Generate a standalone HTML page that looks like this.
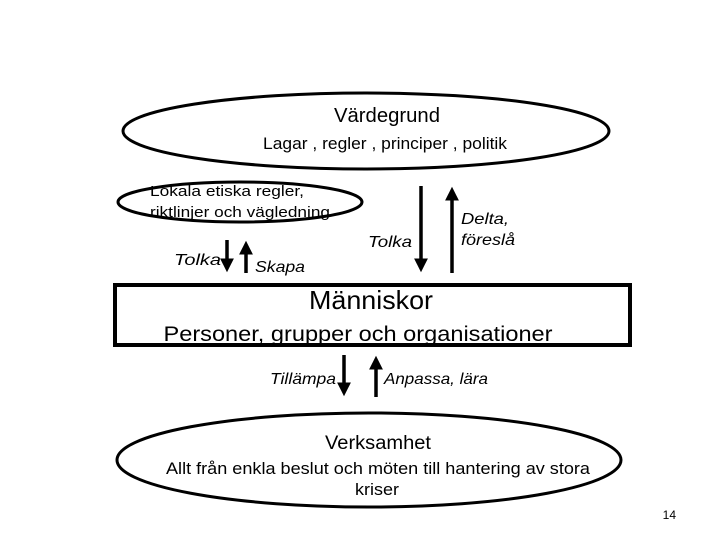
<!DOCTYPE html>
<html><head><meta charset="utf-8"><style>html,body{margin:0;padding:0;background:#fff}svg{display:block}</style></head>
<body>
<svg width="720" height="540" viewBox="0 0 720 540" xmlns="http://www.w3.org/2000/svg" font-family="'Liberation Sans', 'DejaVu Sans', sans-serif">
<defs>
<marker id="ah" markerWidth="4" markerHeight="4" refX="2.2" refY="2" orient="auto" markerUnits="strokeWidth"><path d="M0,0 L4,2 L0,4 z" fill="#000"/></marker>
</defs>
<ellipse cx="366" cy="131" rx="243" ry="38" fill="#fff" stroke="#000" stroke-width="3"/>
<text x="387" y="122" font-size="20" text-anchor="middle" textLength="106" lengthAdjust="spacingAndGlyphs">Värdegrund</text>
<text x="385" y="149" font-size="17" text-anchor="middle" textLength="244" lengthAdjust="spacingAndGlyphs">Lagar , regler , principer , politik</text>
<ellipse cx="240" cy="202" rx="122" ry="20" fill="#fff" stroke="#000" stroke-width="3"/>
<text x="150" y="196" font-size="15" textLength="154" lengthAdjust="spacingAndGlyphs">Lokala etiska regler,</text>
<text x="150" y="217" font-size="15" textLength="180" lengthAdjust="spacingAndGlyphs">riktlinjer och vägledning</text>
<g stroke="#000" stroke-width="3.5" fill="none">
<line x1="227" y1="240" x2="227" y2="266" marker-end="url(#ah)"/>
<line x1="246" y1="273" x2="246" y2="247" marker-end="url(#ah)"/>
<line x1="421" y1="186" x2="421" y2="266" marker-end="url(#ah)"/>
<line x1="452" y1="273" x2="452" y2="193" marker-end="url(#ah)"/>
<line x1="344" y1="355" x2="344" y2="390" marker-end="url(#ah)"/>
<line x1="376" y1="397" x2="376" y2="362" marker-end="url(#ah)"/>
</g>
<g font-style="italic" font-size="16">
<text x="174" y="265" textLength="47" lengthAdjust="spacingAndGlyphs">Tolka</text>
<text x="255" y="272" textLength="50" lengthAdjust="spacingAndGlyphs">Skapa</text>
<text x="368" y="247" textLength="44" lengthAdjust="spacingAndGlyphs">Tolka</text>
<text x="461" y="224" textLength="48" lengthAdjust="spacingAndGlyphs">Delta,</text>
<text x="461" y="245" textLength="54" lengthAdjust="spacingAndGlyphs">föreslå</text>
<text x="270" y="384" textLength="66" lengthAdjust="spacingAndGlyphs">Tillämpa</text>
<text x="384" y="384" textLength="104" lengthAdjust="spacingAndGlyphs">Anpassa, lära</text>
</g>
<rect x="115" y="285" width="515" height="60" fill="#fff" stroke="#000" stroke-width="4"/>
<text x="371" y="309" font-size="26" text-anchor="middle" textLength="124" lengthAdjust="spacingAndGlyphs">Människor</text>
<text x="358" y="341" font-size="21" text-anchor="middle" textLength="389" lengthAdjust="spacingAndGlyphs">Personer, grupper och organisationer</text>
<ellipse cx="369" cy="460" rx="252" ry="47" fill="#fff" stroke="#000" stroke-width="3"/>
<text x="378" y="449" font-size="19" text-anchor="middle" textLength="106" lengthAdjust="spacingAndGlyphs">Verksamhet</text>
<text x="378" y="474" font-size="17" text-anchor="middle" textLength="424" lengthAdjust="spacingAndGlyphs">Allt från enkla beslut och möten till hantering av stora</text>
<text x="377" y="495" font-size="17" text-anchor="middle" textLength="44" lengthAdjust="spacingAndGlyphs">kriser</text>
<text x="676" y="519" font-size="12" text-anchor="end">14</text>
</svg>
</body></html>
